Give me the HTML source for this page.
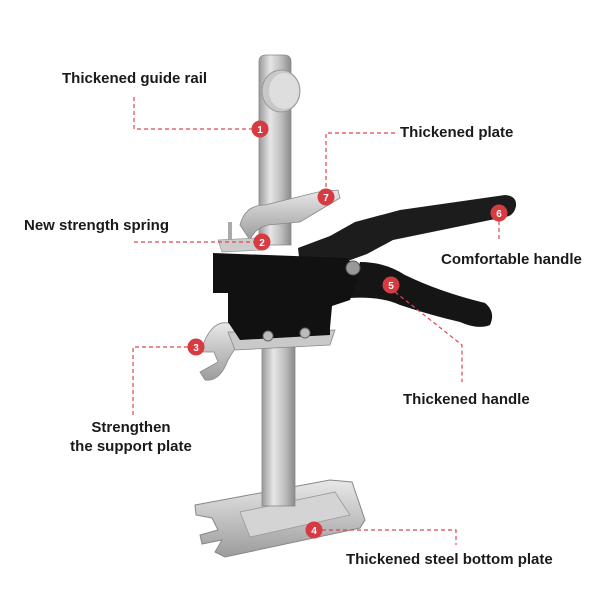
<!DOCTYPE html>
<html><head><meta charset="utf-8"><style>
html,body{margin:0;padding:0;background:#fff;}
svg{display:block;}
text{font-family:"Liberation Sans",sans-serif;font-weight:bold;font-size:15px;fill:#1a1a1a;}
.b text{font-size:10px;fill:#fff;text-anchor:middle;}
</style></head><body>
<svg width="600" height="600" viewBox="0 0 600 600" xmlns="http://www.w3.org/2000/svg">
<defs>
<linearGradient id="m" x1="0" x2="1"><stop offset="0" stop-color="#9a9a9a"/><stop offset="0.35" stop-color="#e6e6e6"/><stop offset="0.7" stop-color="#bdbdbd"/><stop offset="1" stop-color="#8a8a8a"/></linearGradient>
<linearGradient id="mv" x1="0" y1="0" x2="0" y2="1"><stop offset="0" stop-color="#e8e8e8"/><stop offset="1" stop-color="#9c9c9c"/></linearGradient>
</defs>
<!-- base plate -->
<path d="M195 505 L330 480 L352 482 L365 520 L360 528 L225 557 L215 552 L222 540 L202 544 L200 535 L218 530 L212 518 L196 515 Z" fill="url(#mv)" stroke="#888" stroke-width="1"/>
<path d="M240 512 L335 492 L350 515 L250 537 Z" fill="#d4d4d4" stroke="#999" stroke-width="0.8"/>
<!-- column -->
<rect x="262" y="338" width="33" height="168" fill="url(#m)" stroke="#888" stroke-width="0.8"/>
<!-- guide rail -->
<path d="M259 62 Q259 55 266 55 L284 55 Q291 55 291 62 L291 245 L259 245 Z" fill="url(#m)" stroke="#888" stroke-width="0.8"/>
<ellipse cx="281" cy="91" rx="19" ry="21" fill="#c8c8c8" stroke="#999"/>
<ellipse cx="284" cy="91" rx="15" ry="18" fill="#dedede"/>
<!-- plate 7 -->
<path d="M240 225 Q245 205 265 205 L318 192 L338 190 L340 198 L300 222 L268 225 Q255 228 250 240 Z" fill="url(#mv)" stroke="#888" stroke-width="0.8"/>
<!-- spring stud -->
<rect x="228" y="222" width="4" height="18" fill="#aaa"/>
<path d="M218 240 L258 238 L262 250 L222 252 Z" fill="#ccc" stroke="#999" stroke-width="0.7"/>
<!-- upper handle -->
<path d="M298 248 L330 236 L355 222 L400 210 L505 195 Q517 196 516 206 Q514 216 505 217 L393 240 L367 254 L345 262 L300 266 Z" fill="#1c1c1c"/>
<!-- lower handle -->
<path d="M360 262 Q385 262 405 275 Q440 292 485 303 Q496 312 490 325 Q478 330 460 322 Q430 315 400 305 Q380 296 350 298 Z" fill="#151515"/>
<!-- body -->
<path d="M213 253 L347 258 L360 272 L350 300 L332 306 L330 328 L228 328 L228 293 L213 293 Z" fill="#111"/>
<circle cx="353" cy="268" r="7" fill="#999" stroke="#555"/>
<!-- support plate 3 -->
<path d="M205 340 Q215 318 232 324 L240 340 L228 360 Q220 382 205 380 L200 372 L218 362 L214 352 L200 352 Z" fill="url(#mv)" stroke="#888" stroke-width="0.8"/>
<path d="M228 332 L335 330 L330 345 L235 350 Z" fill="#c9c9c9" stroke="#888" stroke-width="0.8"/>
<path d="M228 322 L330 322 L330 335 L240 340 Z" fill="#111"/>
<circle cx="268" cy="336" r="5" fill="#bbb" stroke="#666"/>
<circle cx="305" cy="333" r="5" fill="#bbb" stroke="#666"/>
<!-- dashed lines -->
<g fill="none" stroke="#e0464e" stroke-width="1.2" stroke-dasharray="4 3">
<polyline points="134,97 134,129 252,129"/>
<polyline points="395,133 326,133 326,189"/>
<polyline points="134,242 254,242"/>
<polyline points="499,221 499,242"/>
<polyline points="395,292 462,345 462,382"/>
<polyline points="188,347 133,347 133,415"/>
<polyline points="322,530 456,530 456,545"/>
</g>
<!-- badges -->
<g class="b">
<circle cx="260" cy="129" r="8.5" fill="#d63b42"/><text x="260" y="133">1</text>
<circle cx="262" cy="242" r="8.5" fill="#d63b42"/><text x="262" y="246">2</text>
<circle cx="196" cy="347" r="8.5" fill="#d63b42"/><text x="196" y="351">3</text>
<circle cx="314" cy="530" r="8.5" fill="#d63b42"/><text x="314" y="534">4</text>
<circle cx="391" cy="285" r="8.5" fill="#d63b42"/><text x="391" y="289">5</text>
<circle cx="499" cy="213" r="8.5" fill="#d63b42"/><text x="499" y="217">6</text>
<circle cx="326" cy="197" r="8.5" fill="#d63b42"/><text x="326" y="201">7</text>
</g>
<!-- labels -->
<text x="62" y="83">Thickened guide rail</text>
<text x="400" y="137">Thickened plate</text>
<text x="24" y="230">New strength spring</text>
<text x="441" y="264">Comfortable handle</text>
<text x="403" y="404">Thickened handle</text>
<text x="131" y="432" text-anchor="middle">Strengthen</text>
<text x="131" y="451" text-anchor="middle">the support plate</text>
<text x="346" y="564">Thickened steel bottom plate</text>
</svg>
</body></html>
